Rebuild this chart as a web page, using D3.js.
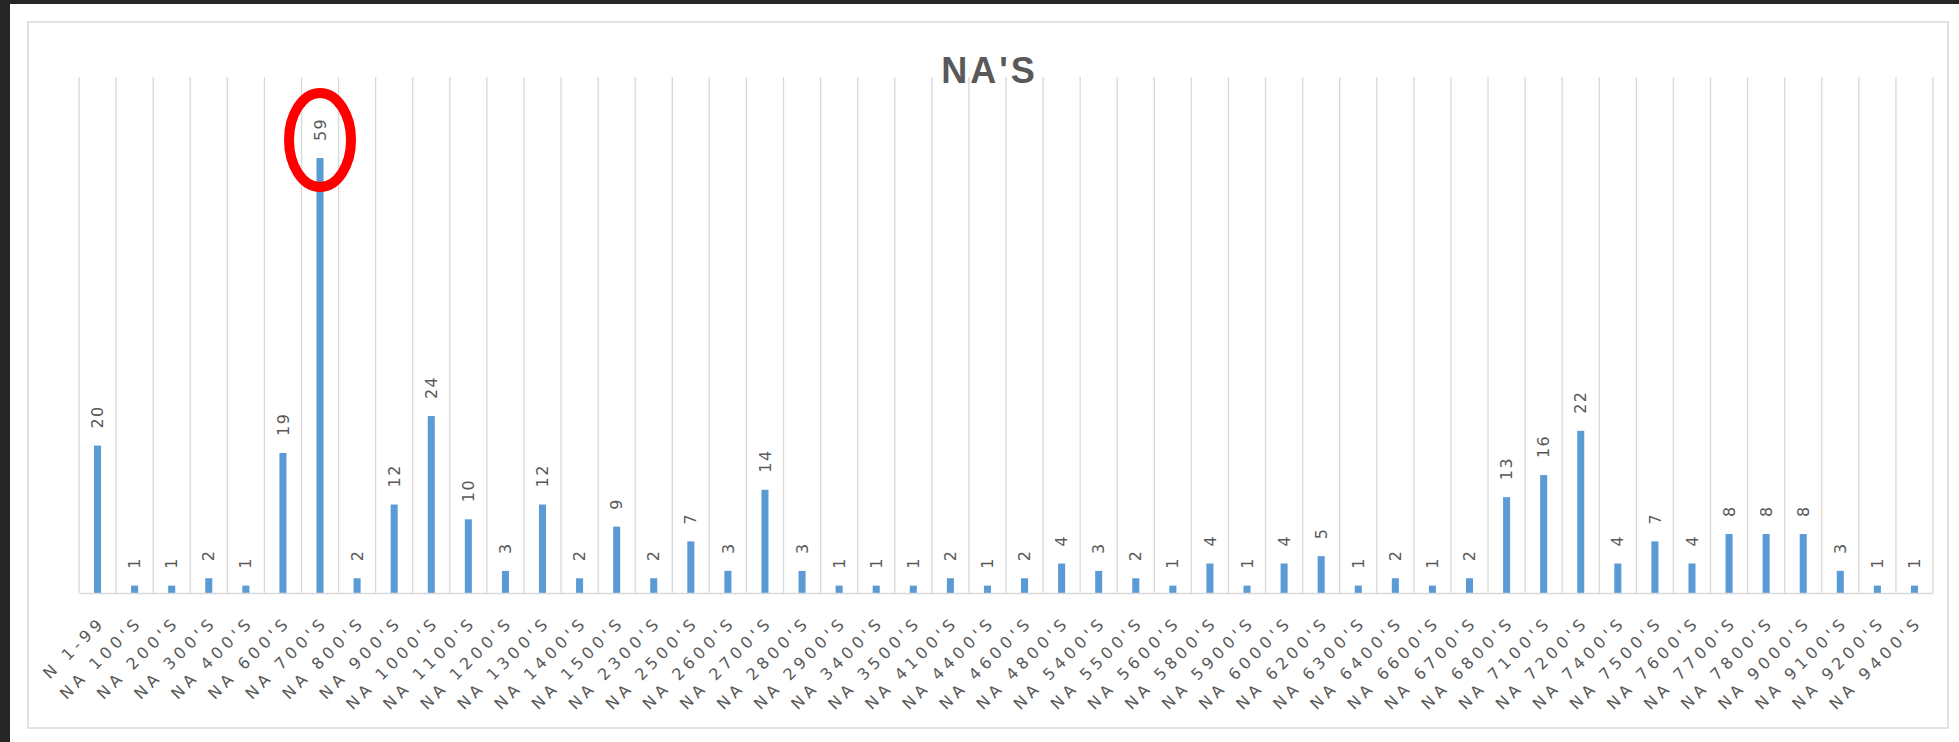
<!DOCTYPE html>
<html>
<head>
<meta charset="utf-8">
<script src="https://cdn.jsdelivr.net/npm/d3@7"></script>
<style>
  html, body { margin: 0; padding: 0; background: #262626; }
  svg { display: block; }
</style>
</head>
<body>
<svg id="chart" width="1959" height="742"></svg>
<script>
const categories = ["N 1-99","NA 100'S","NA 200'S","NA 300'S","NA 400'S","NA 600'S","NA 700'S","NA 800'S","NA 900'S","NA 1000'S",
  "NA 1100'S","NA 1200'S","NA 1300'S","NA 1400'S","NA 1500'S","NA 2300'S","NA 2500'S","NA 2600'S","NA 2700'S","NA 2800'S",
  "NA 2900'S","NA 3400'S","NA 3500'S","NA 4100'S","NA 4400'S","NA 4600'S","NA 4800'S","NA 5400'S","NA 5500'S","NA 5600'S",
  "NA 5800'S","NA 5900'S","NA 6000'S","NA 6200'S","NA 6300'S","NA 6400'S","NA 6600'S","NA 6700'S","NA 6800'S","NA 7100'S",
  "NA 7200'S","NA 7400'S","NA 7500'S","NA 7600'S","NA 7700'S","NA 7800'S","NA 9000'S","NA 9100'S","NA 9200'S","NA 9400'S"];
const values = [20,1,1,2,1,19,59,2,12,24,
  10,3,12,2,9,2,7,3,14,3,
  1,1,1,2,1,2,4,3,2,1,
  4,1,4,5,1,2,1,2,13,16,
  22,4,7,4,8,8,8,3,1,1];
const yDomain = [0, 70];
const title = "NA'S";
const highlighted = "NA 700'S";

const svg = d3.select("#chart");
const W = 1959, H = 742;
const plot = {left: 79, right: 1933, top: 77, bottom: 593};

// white page area
svg.append("rect").attr("x", 10).attr("y", 4).attr("width", W - 10).attr("height", H - 4).attr("fill", "#ffffff");
// chart area border
svg.append("rect").attr("x", 28).attr("y", 22).attr("width", 1920).attr("height", 706)
  .attr("fill", "#ffffff").attr("stroke", "#d9d9d9").attr("stroke-width", 1.5);

const xCat = d3.scaleBand().domain(categories).range([plot.left, plot.right]).padding(0);
const p = 0.81;
const x = d3.scaleBand().domain(categories).range([plot.left, plot.right]).paddingInner(p).paddingOuter(p / 2);
const y = d3.scaleLinear().domain(yDomain).range([plot.bottom, plot.top]);

// vertical gridlines at category boundaries
const bounds = categories.map(c => xCat(c)).concat([plot.right]);
svg.append("g").selectAll("line").data(bounds).join("line")
  .attr("x1", d => d).attr("x2", d => d)
  .attr("y1", y(yDomain[1])).attr("y2", y(0))
  .attr("stroke", "#d9d9d9").attr("stroke-width", 1.3);

// bars
svg.append("g").selectAll("rect").data(values).join("rect")
  .attr("x", (d, i) => x(categories[i]))
  .attr("width", x.bandwidth())
  .attr("y", d => y(d))
  .attr("height", d => y(0) - y(d))
  .attr("fill", "#5b9bd5");

// x axis
const xAxis = svg.append("g").attr("transform", `translate(0,${y(0)})`)
  .call(d3.axisBottom(x).tickSize(0).tickSizeOuter(0));
xAxis.select(".domain").attr("stroke", "#d9d9d9").attr("stroke-width", 1.5);
xAxis.selectAll(".tick text")
  .attr("x", 0).attr("y", 0).attr("dy", 0)
  .attr("transform", "translate(9,30) rotate(-45)")
  .attr("text-anchor", "end")
  .attr("fill", "#595959")
  .style("font-family", "'DejaVu Sans', sans-serif")
  .style("font-size", "16px")
  .style("letter-spacing", "4.5px");

// data labels
svg.append("g").selectAll("text").data(values).join("text")
  .attr("transform", (d, i) => `translate(${x(categories[i]) + x.bandwidth() / 2},${y(d) - 17}) rotate(-90)`)
  .attr("dy", "0.35em")
  .attr("text-anchor", "start")
  .attr("fill", "#595959")
  .style("font-family", "'DejaVu Sans', sans-serif")
  .style("font-size", "16px")
  .style("letter-spacing", "1.5px")
  .text(d => d);

// title
svg.append("text")
  .attr("x", 989.5).attr("y", 83)
  .attr("text-anchor", "middle")
  .attr("fill", "#595959")
  .style("font-family", "'Liberation Sans', Arial, sans-serif")
  .style("font-size", "36px")
  .style("font-weight", "bold")
  .style("letter-spacing", "3px")
  .text(title);

// red highlight ellipse
const hi = categories.indexOf(highlighted);
svg.append("ellipse")
  .attr("cx", x(highlighted) + x.bandwidth() / 2)
  .attr("cy", y(values[hi]) - 18)
  .attr("rx", 31).attr("ry", 47)
  .attr("fill", "none").attr("stroke", "#ff0000").attr("stroke-width", 10);
</script>
</body>
</html>
